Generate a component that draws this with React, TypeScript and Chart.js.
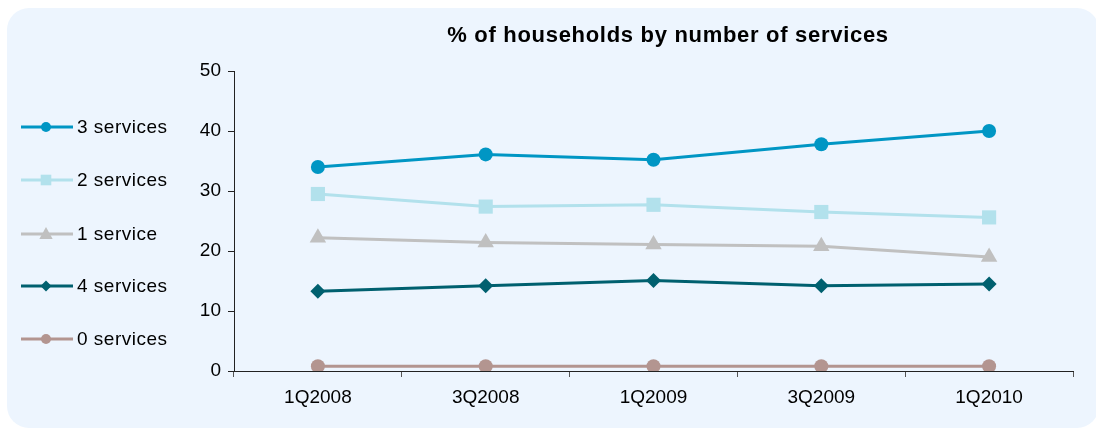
import React, { useEffect, useRef } from "react";
import { Chart, registerables } from "chart.js";

Chart.register(...registerables);

const quarters = ["1Q2008", "3Q2008", "1Q2009", "3Q2009", "1Q2010"];
const threeServices = [34.0, 36.1, 35.2, 37.8, 40.0];
const twoServices = [29.5, 27.4, 27.7, 26.5, 25.6];
const oneService = [22.2, 21.4, 21.1, 20.8, 19.0];
const fourServices = [13.3, 14.2, 15.1, 14.2, 14.5];
const zeroServices = [0.8, 0.8, 0.8, 0.8, 0.8];
const yTicks = [0, 10, 20, 30, 40, 50];

const FONT = "'Liberation Sans', Arial, sans-serif";

// point radius on the plot and marker size in the legend for each series
const seriesDefs = [
  { label: "3 services", data: threeServices, color: "#0096C4", style: "circle", radius: 7, legendSize: 5 },
  { label: "2 services", data: twoServices, color: "#B2E1EC", style: "rect", radius: 10, legendSize: 5.3 },
  { label: "1 service", data: oneService, color: "#C0C0C0", style: "triangle", radius: 9.5, legendSize: 7 },
  { label: "4 services", data: fourServices, color: "#00606F", style: "rectRot", radius: 7.5, legendSize: 5.5 },
  { label: "0 services", data: zeroServices, color: "#B39590", style: "circle", radius: 7, legendSize: 5 },
];

function drawMarker(ctx: CanvasRenderingContext2D, style: string, x: number, y: number, r: number, color: string) {
  ctx.save();
  ctx.fillStyle = color;
  ctx.beginPath();
  if (style === "circle") {
    ctx.arc(x, y, r, 0, Math.PI * 2);
  } else if (style === "rect") {
    ctx.rect(x - r, y - r, r * 2, r * 2);
  } else if (style === "triangle") {
    ctx.moveTo(x, y - r);
    ctx.lineTo(x + r * 0.95, y + r * 0.7);
    ctx.lineTo(x - r * 0.95, y + r * 0.7);
    ctx.closePath();
  } else {
    ctx.moveTo(x, y - r);
    ctx.lineTo(x + r, y);
    ctx.lineTo(x, y + r);
    ctx.lineTo(x - r, y);
    ctx.closePath();
  }
  ctx.fill();
  ctx.restore();
}

const backgroundPlugin = {
  id: "panelBackground",
  beforeDraw(chart: any) {
    const ctx = chart.ctx as CanvasRenderingContext2D;
    ctx.save();
    ctx.fillStyle = "#ffffff";
    ctx.fillRect(0, 0, chart.width, chart.height);
    ctx.fillStyle = "#EDF5FE";
    ctx.beginPath();
    (ctx as any).roundRect(7, 8, 1092, 420, 22);
    ctx.fill();
    ctx.restore();
  },
};

const titleAndLegendPlugin = {
  id: "titleAndLegend",
  afterDraw(chart: any) {
    const ctx = chart.ctx as CanvasRenderingContext2D;
    ctx.save();
    ctx.fillStyle = "#000";
    ctx.font = `bold 22px ${FONT}`;
    (ctx as any).letterSpacing = "0.7px";
    ctx.textAlign = "center";
    ctx.textBaseline = "middle";
    ctx.fillText("% of households by number of services", 668, 36);

    ctx.font = `19px ${FONT}`;
    (ctx as any).letterSpacing = "0.5px";
    ctx.textAlign = "left";
    const rowY = [127, 180, 234, 286, 339];
    chart.data.datasets.forEach((ds: any, i: number) => {
      const def = seriesDefs[i];
      const y = rowY[i];
      ctx.strokeStyle = def.color;
      ctx.lineWidth = 3;
      ctx.beginPath();
      ctx.moveTo(21, y);
      ctx.lineTo(73, y);
      ctx.stroke();
      drawMarker(ctx, def.style, 46, y, def.legendSize, def.color);
      ctx.fillStyle = "#000";
      ctx.fillText(ds.label, 77, y + 1);
    });
    (ctx as any).letterSpacing = "0px";
    ctx.restore();
  },
};

export default function App() {
  const canvasRef = useRef<HTMLCanvasElement | null>(null);

  useEffect(() => {
    if (!canvasRef.current) return;
    const chart = new Chart(canvasRef.current, {
      type: "line",
      data: {
        labels: quarters,
        datasets: seriesDefs.map((s) => ({
          label: s.label,
          data: s.data,
          borderColor: s.color,
          backgroundColor: s.color,
          borderWidth: 3,
          pointStyle: s.style as any,
          pointRadius: s.radius,
          pointBorderWidth: 0,
          pointBackgroundColor: s.color,
          tension: 0,
          fill: false,
        })),
      },
      options: {
        animation: false,
        responsive: false,
        devicePixelRatio: 1,
        layout: { padding: { left: 0, right: 23, top: 71, bottom: 0 } },
        plugins: {
          legend: { display: false },
          title: { display: false },
          tooltip: { enabled: false },
        },
        scales: {
          x: {
            type: "category",
            offset: true,
            afterFit(scale: any) {
              scale.height = 58;
            },
            grid: {
              offset: true,
              drawOnChartArea: false,
              drawTicks: true,
              tickLength: 6,
              color: "#555",
            },
            border: { display: true, color: "#222", width: 1 },
            ticks: {
              color: "#000",
              font: { family: FONT, size: 19 },
              padding: 9,
              maxRotation: 0,
            },
          },
          y: {
            min: 0,
            max: 50,
            afterFit(scale: any) {
              scale.width = 234;
            },
            afterBuildTicks(scale: any) {
              scale.ticks = yTicks.map((v) => ({ value: v }));
            },
            grid: {
              drawOnChartArea: false,
              drawTicks: true,
              tickLength: 6,
              color: "#222",
            },
            border: { display: true, color: "#222", width: 1 },
            ticks: {
              color: "#000",
              font: { family: FONT, size: 19 },
              padding: 7,
            },
          },
        },
      },
      plugins: [backgroundPlugin, titleAndLegendPlugin],
    });
    return () => chart.destroy();
  }, []);

  return (
    <div style={{ position: "fixed", left: 0, top: 0, width: 1096, height: 429 }}>
      <canvas ref={canvasRef} width={1096} height={429} style={{ width: 1096, height: 429 }} />
    </div>
  );
}
